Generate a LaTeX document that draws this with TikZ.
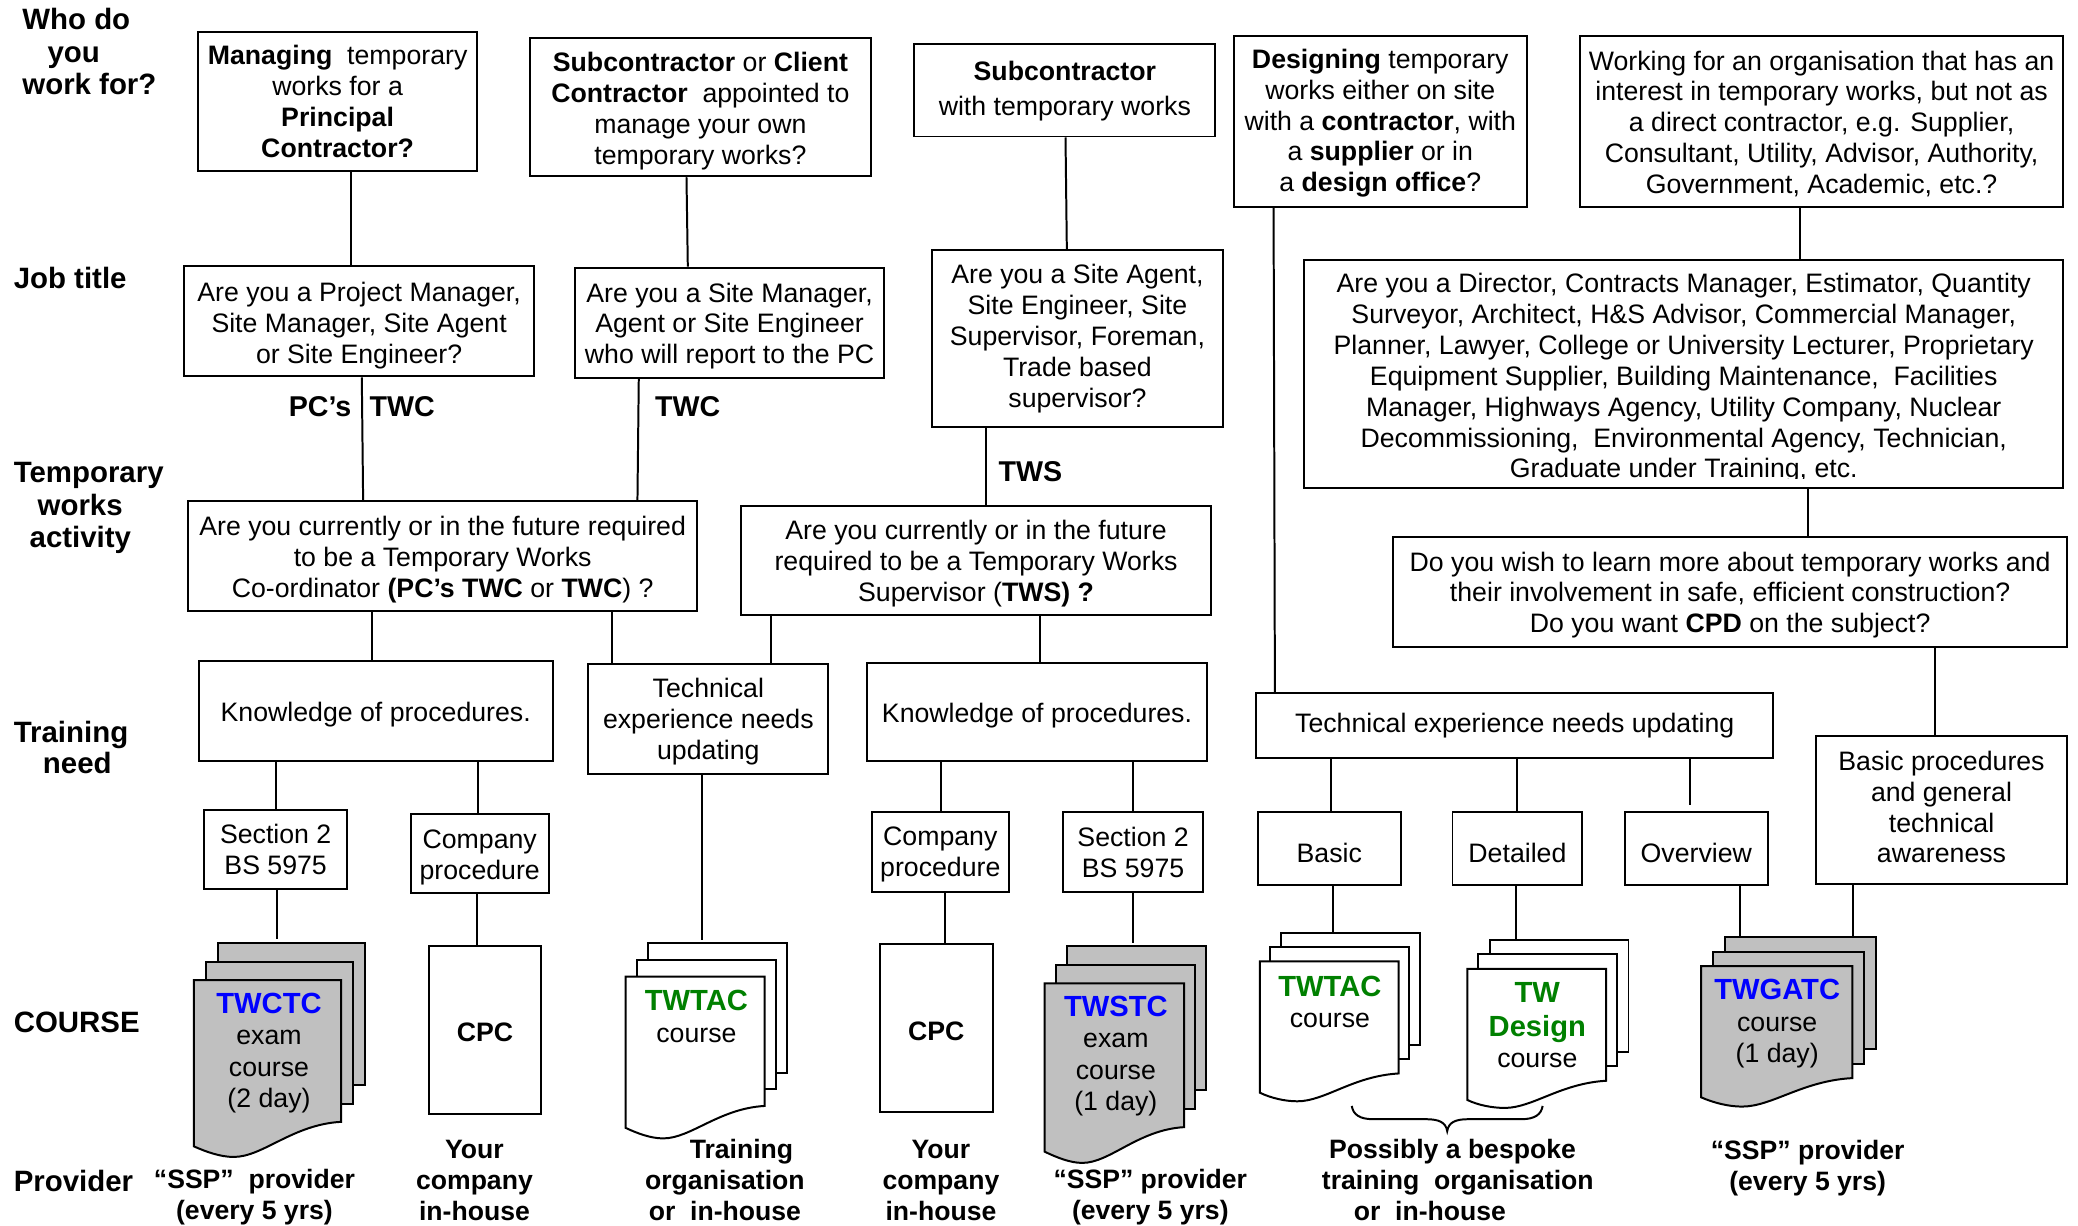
\documentclass[tikz,border=0pt]{standalone}
\usepackage{fontspec}
\setmainfont{Liberation Sans}
\definecolor{pagegray}{RGB}{192,192,192}
\definecolor{ttblue}{RGB}{0,0,255}
\definecolor{ttgreen}{RGB}{0,128,0}
\tikzset{
  boxnode/.style={draw=black,line width=.75pt,inner sep=0pt,fill=white},
  boxtext/.style={inner sep=0pt,align=center,font=\fontsize{10.07}{11.65}\selectfont},
  conn/.style={draw=black,line width=.75pt},
  page/.style={draw=black,line width=.75pt,line join=miter},
  doctext/.style={inner sep=0pt,align=center,font=\fontsize{10.07}{11.9}\selectfont},
  heading/.style={inner sep=0pt,align=left,anchor=west,font=\fontsize{11.1}{12.25}\selectfont\bfseries},
  tag/.style={inner sep=0pt,font=\fontsize{10.8}{12}\selectfont\bfseries},
  provider/.style={inner sep=0pt,align=center,font=\fontsize{10.03}{11.7}\selectfont\bfseries},
}
\newcommand\ttl[2]{{\fontsize{11}{12}\selectfont\bfseries\color{#1}#2}}
% [text dy]{name}{x1}{y1}{x2}{y2}{text}
\newcommand\mybox[7][0]{%
  \node[boxnode,minimum width={(#5-#3)*0.5pt},minimum height={(#6-#4)*0.5pt}] (#2) at ({(#3+#5)/2},{(#4+#6)/2}) {};
  \node[boxtext] (#2t) at ({(#3+#5)/2},{(#4+#6)/2+#1}) {#7};}
\newcommand\myconn[5][]{\draw[conn,#1] (#2.south -| #4,0) -- (#3.north -| #5,0);}
% name L R T rb lb wb dx dy fill
\newcommand\mydocs[9]{%
  \def\dL{#2}\def\dR{#3}\def\dT{#4}\def\dB{#5}\def\dLB{#6}\def\dWB{#7}\def\ddx{#8}\def\ddy{#9}\mydocsB{#1}}
\newcommand\mydocsB[2]{%
  \draw[page,fill=#2] ({\dL+2*\ddx},{\dT-2*\ddy}) rectangle ({\dR+2*\ddx},{\dB-2*\ddy});
  \draw[page,fill=#2] ({\dL+\ddx},{\dT-\ddy}) rectangle ({\dR+\ddx},{\dB-\ddy});
  \draw[page,fill=#2] (\dL,\dT) -- (\dR,\dT) -- (\dR,\dB)
     .. controls ({\dR-0.33*(\dR-\dL)},{\dB+2}) and ({\dL+0.47*(\dR-\dL)},\dWB) .. ({\dL+0.27*(\dR-\dL)},\dWB)
     .. controls ({\dL+0.18*(\dR-\dL)},\dWB) and ({\dL+0.08*(\dR-\dL)},{\dLB+4}) .. (\dL,\dLB) -- cycle;
  \node[inner sep=0pt,minimum width={(\dR-\dL+2*\ddx)*0.5pt},minimum height={(\dB-\dT+2*\ddy)*0.5pt}] (#1) at ({(\dL+\dR)/2+\ddx},{(\dT+\dB)/2-\ddy}) {};
}
\begin{document}
\begin{tikzpicture}[x=0.5pt,y=-0.5pt]
\useasboundingbox (0,0) rectangle (1568,925);
\fill[white] (0,0) rectangle (1568,925);

% side headings
\node[heading] (hwho) at (16.5,39) {Who do\\\hspace*{9.5pt}you\\work for?};
\node[heading] (hjob) at (10,210) {Job title};
\node[heading] (htemp) at (10,383.5) {Temporary\\\hspace*{9pt}works\\\hspace*{6pt}activity};
\node[heading,font=\fontsize{11.1}{11.7}\selectfont\bfseries] (htrain) at (10,564) {Training\\\hspace*{11pt}need};
\node[heading] (hcourse) at (10,771.5) {COURSE};
\node[heading] (hprov) at (10,891) {Provider};

% row 1
\mybox{aone}{149.5}{24}{360}{129}{\textbf{Managing}\ \ temporary\\works for a\\\textbf{Principal}\\\textbf{Contractor?}}
\mybox[3]{atwo}{400}{29}{657}{133}{\textbf{Subcontractor} or \textbf{Client}\\\textbf{Contractor}\ \ appointed to\\manage your own\\temporary works?}
\mybox[0.5]{athree}{690}{33}{917}{103}{\textbf{Subcontractor}\\[1.5pt]with temporary works}
\mybox[1.5]{afour}{931}{27}{1152}{156}{\textbf{Designing} temporary\\works either on site\\with a \textbf{contractor}, with\\a \textbf{supplier} or in\\a \textbf{design office}?}
\mybox[2]{afive}{1192}{27}{1557}{156}{Working for an organisation that has an\\interest in temporary works, but not as\\a direct contractor, e.g. Supplier,\\Consultant, Utility, Advisor, Authority,\\Government, Academic, etc.?}

% row 2
\mybox[3]{bone}{139}{201}{403}{284}{Are you a Project Manager,\\Site Manager, Site Agent\\or Site Engineer?}
\mybox[2.5]{btwo}{434}{202}{667}{285}{Are you a Site Manager,\\Agent or Site Engineer\\who will report to the PC}
\mybox{bthree}{703}{189}{923}{322}{Are you a Site Agent,\\Site Engineer, Site\\Supervisor, Foreman,\\Trade based\\supervisor?}
\mybox[3.5]{bfour}{984}{196}{1557}{368}{Are you a Director, Contracts Manager, Estimator, Quantity\\Surveyor, Architect, H\&S Advisor, Commercial Manager,\\Planner, Lawyer, College or University Lecturer, Proprietary\\Equipment Supplier, Building Maintenance,\ \ Facilities\\Manager, Highways Agency, Utility Company, Nuclear\\Decommissioning,\ \ Environmental Agency, Technician,\\Graduate under Training, etc.}
\fill[white] (1100,361.5) rectangle (1420,366.5);

% row 3
\mybox[2.5]{cone}{142}{378}{526}{461}{Are you currently or in the future required\\to be a Temporary Works\\Co-ordinator \textbf{(PC’s TWC} or \textbf{TWC}) ?}
\mybox[2]{ctwo}{559}{382}{914}{464}{Are you currently or in the future\\required to be a Temporary Works\\Supervisor (\textbf{TWS) ?}}
\mybox[2.5]{cthree}{1051}{405}{1560}{488}{Do you wish to learn more about temporary works and\\their involvement in safe, efficient construction?\\Do you want \textbf{CPD} on the subject?}

% row 4
\mybox[3]{done}{150}{499}{417}{574}{Knowledge of procedures.}
\mybox[2]{dtwo}{444}{501}{625}{584}{Technical\\experience needs\\updating}
\mybox[3]{dthree}{654}{500}{911}{574}{Knowledge of procedures.}
\mybox{dfour}{948}{523}{1338}{572}{Technical experience needs updating}
\mybox[-2]{dfive}{1370}{555}{1560}{667}{Basic procedures\\and general\\technical\\awareness}

% row 5
\mybox{eone}{154}{611}{262}{671}{Section 2\\BS 5975}
\mybox[3]{etwo}{310}{614}{414}{674}{Company\\procedure}
\mybox[2]{ethree}{658}{613}{761}{673}{Company\\procedure}
\mybox{efour}{802}{613}{908}{673}{Section 2\\BS 5975}
\mybox[3]{efive}{949}{613}{1057}{668}{Basic}
\mybox[3]{esix}{1096}{613}{1194}{668}{Detailed}
\mybox[3]{eseven}{1226}{613}{1334}{668}{Overview}

% course documents
\mydocs{stwctc}{146.3}{257.4}{739.5}{846.5}{865}{873}{9}{13.8}{pagegray}
\node[doctext] (ttwctc) at (203,794.5) {\ttl{ttblue}{TWCTC}\\exam\\course\\(2 day)};

\mybox[2]{cpcone}{323.4}{713.5}{408.5}{840.5}{\textbf{CPC}}

\mydocs{stwtac}{472}{577}{737}{834.5}{851}{859}{8.5}{12.6}{white}
\node[doctext] (ttwtac) at (525.5,767) {\ttl{ttgreen}{TWTAC}\\course};

\mybox[3]{cpctwo}{664}{712}{749}{839}{\textbf{CPC}}

\mydocs{stwstc}{788.2}{893.5}{742}{850.5}{869}{877.5}{8.3}{14}{pagegray}
\node[doctext] (ttwstc) at (842,797) {\ttl{ttblue}{TWSTC}\\exam\\course\\(1 day)};

\mydocs{stwtacb}{950.6}{1055.4}{725.5}{810}{824.5}{831}{8}{10.7}{white}
\node[doctext] (ttwtacb) at (1003.5,756) {\ttl{ttgreen}{TWTAC}\\course};

\mydocs{sdesign}{1107.2}{1212}{731}{815.5}{830}{836}{8.4}{11}{white}
\node[doctext] (tdesign) at (1160,773.5) {\ttl{ttgreen}{TW}\\[1pt]\ttl{ttgreen}{Design}\\course};

\mydocs{sgatc}{1283.6}{1397.7}{729}{813.5}{828}{835}{9}{10.8}{pagegray}
\node[doctext] (tgatc) at (1341,772.5) {\ttl{ttblue}{TWGATC}\\course\\(1 day)};

% brace
\draw[conn] (1020,834.5) .. controls (1021,841) and (1026,844.5) .. (1036,844.5) -- (1076,844.5)
  .. controls (1086,844.5) and (1091,847) .. (1092,853.5)
  .. controls (1093,847) and (1098,844.5) .. (1108,844.5) -- (1148,844.5)
  .. controls (1158,844.5) and (1163,841) .. (1164,834.5);

% connectors
\myconn{aone}{bone}{265}{265}
\myconn{atwo}{btwo}{518}{519}
\myconn{athree}{bthree}{804}{805}
\myconn{afive}{bfour}{1358}{1358}
\myconn{afour}{dfour}{961}{962}
\myconn{bone}{cone}{273}{274}
\myconn{btwo}{cone}{482}{481}
\myconn{bthree}{ctwo}{744}{744}
\myconn{bfour}{cthree}{1364}{1364}
\myconn{cone}{done}{281}{281}
\myconn{cone}{dtwo}{462}{462}
\myconn{ctwo}{dtwo}{582}{582}
\myconn{ctwo}{dthree}{785}{785}
\myconn{cthree}{dfive}{1460}{1460}
\myconn{done}{eone}{208}{208}
\myconn{done}{etwo}{361}{361}
\myconn{dthree}{ethree}{710}{710}
\myconn{dthree}{efour}{855}{855}
\myconn{dfour}{efive}{1004}{1004}
\myconn{dfour}{esix}{1145}{1145}
\myconn[shorten >=2.5pt]{dfour}{eseven}{1275}{1275}
\myconn[shorten >=1.5pt]{eone}{stwctc}{209}{209}
\myconn{etwo}{cpcone}{360}{360}
\myconn[shorten >=1pt]{dtwo}{stwtac}{530}{530}
\myconn{ethree}{cpctwo}{713}{713}
\myconn[shorten >=1pt]{efour}{stwstc}{855}{855}
\myconn{efive}{stwtacb}{1006}{1006}
\myconn{esix}{sdesign}{1144}{1144}
\myconn{eseven}{sgatc}{1313}{1313}
\myconn{dfive}{sgatc}{1398}{1398}

% connector tags
\node[tag] (tpc) at (241.5,307) {PC’s};
\node[tag] (ttwca) at (303.5,307) {TWC};
\node[tag] (ttwcb) at (519,307) {TWC};
\node[tag] (ttws) at (777.5,356) {TWS};

% providers
\node[provider] (pa) at (192,903.5) {“SSP”\ \ provider\\(every 5 yrs)};
\node[provider] (pb) at (358,891) {Your\\company\\in-house};
\node[provider] (pc) at (547,890.5) {\hspace*{12.5pt}Training\\organisation\\or\ \ in-house};
\node[provider] (pd) at (710,891) {Your\\company\\in-house};
\node[provider] (pe) at (868,903.5) {“SSP” provider\\(every 5 yrs)};
\node[provider] (pf) at (1100,890.5) {Possibly a bespoke\hspace*{4pt}\\training\ \ organisation\\or\ \ in-house\hspace*{21pt}};
\node[provider] (pg) at (1364,881.5) {“SSP” provider\\(every 5 yrs)};
\end{tikzpicture}
\end{document}
